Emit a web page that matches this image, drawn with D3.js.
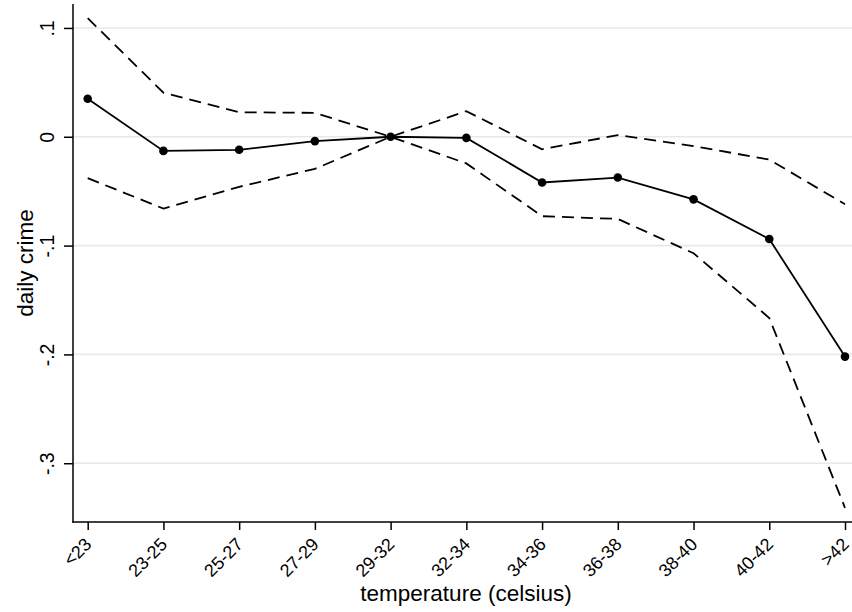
<!DOCTYPE html>
<html>
<head>
<meta charset="utf-8">
<script src="https://cdn.jsdelivr.net/npm/d3@7"></script>
<style>
  html, body { margin: 0; padding: 0; background: #fff; }
  svg { display: block; font-family: "Liberation Sans", Arial, Helvetica, sans-serif; }
</style>
</head>
<body>
<svg id="chart" width="852" height="612"></svg>
<script>
// Temperature bins and estimated effect on daily crime with 95% bounds
const categories = ["<23", "23-25", "25-27", "27-29", "29-32", "32-34", "34-36", "36-38", "38-40", "40-42", ">42"];
const estimate = [0.035, -0.013, -0.012, -0.004, 0, -0.001, -0.042, -0.0375, -0.0575, -0.094, -0.202];
const upper    = [0.109, 0.0405, 0.0225, 0.022, 0, 0.0235, -0.0115, 0.0015, -0.0085, -0.021, -0.062];
const lower    = [-0.038, -0.066, -0.046, -0.0295, 0, -0.0245, -0.073, -0.0755, -0.107, -0.1665, -0.341];

const yTickValues = [0.1, 0, -0.1, -0.2, -0.3];
const yTickLabels = [".1", "0", "-.1", "-.2", "-.3"];

const xTitle = "temperature (celsius)";
const yTitle = "daily crime";

const svg = d3.select("#chart");
const plotLeft = 73, plotRight = 852, plotTop = 4, plotBottom = 522;

const x = d3.scalePoint().domain(categories).range([87.7, 845]);
const y = d3.scaleLinear().domain([-0.354, 0.122]).range([plotBottom, plotTop]);

// horizontal grid lines
svg.append("g")
  .selectAll("line")
  .data(yTickValues)
  .join("line")
  .attr("x1", plotLeft).attr("x2", plotRight)
  .attr("y1", d => y(d)).attr("y2", d => y(d))
  .attr("stroke", "#e8e8e8")
  .attr("stroke-width", 1.6);

// y axis
const yAxis = d3.axisLeft(y)
  .tickValues(yTickValues)
  .tickFormat((d, i) => yTickLabels[i])
  .tickSize(9)
  .tickSizeOuter(0);
const gy = svg.append("g").attr("transform", `translate(${plotLeft},0)`).call(yAxis);
gy.select(".domain").remove();
gy.append("line").attr("x1", 0).attr("x2", 0).attr("y1", plotTop).attr("y2", plotBottom + 0.75)
  .attr("stroke", "#000").attr("stroke-width", 1.5);
gy.selectAll(".tick line").attr("stroke", "#000").attr("stroke-width", 1.5);
gy.selectAll(".tick text")
  .attr("x", null).attr("dy", null)
  .attr("text-anchor", "middle")
  .attr("transform", "translate(-19,0) rotate(-90)")
  .attr("fill", "#000")
  .style("font-size", "19.5px");

// x axis
const xAxis = d3.axisBottom(x).tickSize(8).tickSizeOuter(0);
const gx = svg.append("g").attr("transform", `translate(0,${plotBottom})`).call(xAxis);
gx.select(".domain").remove();
gx.append("line").attr("x1", plotLeft - 0.75).attr("x2", plotRight).attr("y1", 0).attr("y2", 0)
  .attr("stroke", "#000").attr("stroke-width", 1.5);
gx.selectAll(".tick line").attr("stroke", "#000").attr("stroke-width", 1.5);
gx.selectAll(".tick text")
  .attr("y", null)
  .attr("text-anchor", "end")
  .attr("transform", "translate(0,19) rotate(-45)")
  .attr("dy", "0.35em")
  .attr("fill", "#000")
  .style("font-size", "18px");

// axis titles
svg.append("text")
  .attr("x", 466).attr("y", 601)
  .attr("text-anchor", "middle")
  .style("font-size", "22.5px")
  .text(xTitle);
svg.append("text")
  .attr("transform", `translate(33,${(plotTop + plotBottom) / 2}) rotate(-90)`)
  .attr("text-anchor", "middle")
  .style("font-size", "22.5px")
  .text(yTitle);

const line = d3.line().x((d, i) => x(categories[i])).y(d => y(d));

// confidence bounds
[upper, lower].forEach(series => {
  svg.append("path")
    .datum(series)
    .attr("d", line)
    .attr("fill", "none")
    .attr("stroke", "#000")
    .attr("stroke-width", 1.8)
    .attr("stroke-dasharray", "12,7");
});

// point estimates
svg.append("path")
  .datum(estimate)
  .attr("d", line)
  .attr("fill", "none")
  .attr("stroke", "#000")
  .attr("stroke-width", 1.8);

svg.append("g")
  .selectAll("circle")
  .data(estimate)
  .join("circle")
  .attr("cx", (d, i) => x(categories[i]))
  .attr("cy", d => y(d))
  .attr("r", 4.3)
  .attr("fill", "#000");
</script>
</body>
</html>
